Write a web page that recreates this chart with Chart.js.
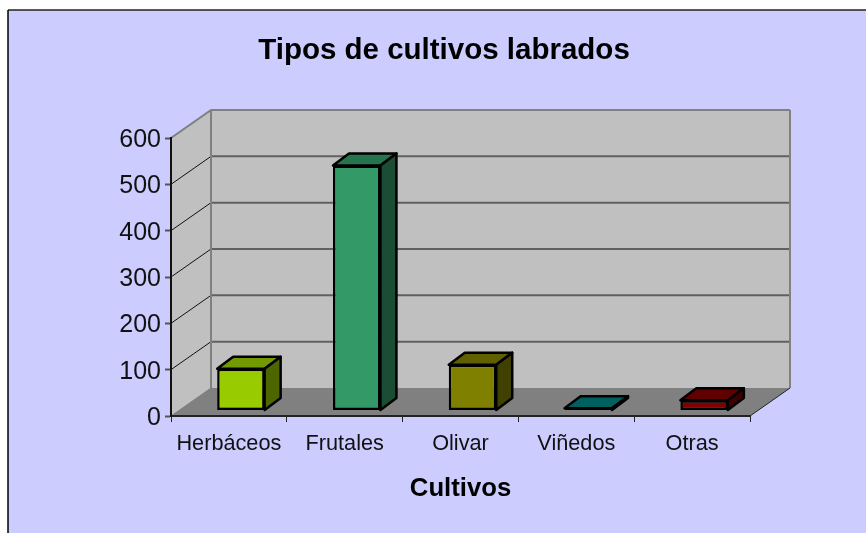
<!DOCTYPE html>
<html>
<head>
<meta charset="utf-8">
<style>
  html, body { margin: 0; padding: 0; background: #fff; }
  canvas { display: block; }
</style>
<script src="https://cdn.jsdelivr.net/npm/chart.js@4/dist/chart.umd.min.js"></script>
</head>
<body>
<canvas id="chart" width="866" height="533"></canvas>
<script>
var chartTitle = 'Tipos de cultivos labrados';
var xTitle = 'Cultivos';
var categories = ['Herbáceos', 'Frutales', 'Olivar', 'Viñedos', 'Otras'];
var values = [90, 529, 99, 5, 22];

var frontColors = ['#99CC00', '#339966', '#808000', '#008080', '#800000'];
var topColors = ['#739900', '#267350', '#606000', '#006060', '#600000'];
var sideColors = ['#4D6600', '#1A4D33', '#404000', '#004040', '#400000'];

var FONT = '"Liberation Sans", Arial, sans-serif';
// depth of the fake 3d box and of the bars in it
var WALL_DX = 40, WALL_DY = 28;
var BAR_SHIFT_X = 12, BAR_SHIFT_Y = 5.5;
var BAR_DX = 16, BAR_DY = 12;

function poly(ctx, pts, fill, stroke, lw) {
  ctx.beginPath();
  ctx.moveTo(pts[0][0], pts[0][1]);
  for (var i = 1; i < pts.length; i++) ctx.lineTo(pts[i][0], pts[i][1]);
  ctx.closePath();
  if (fill) { ctx.fillStyle = fill; ctx.fill(); }
  if (stroke) { ctx.strokeStyle = stroke; ctx.lineWidth = lw; ctx.stroke(); }
}

function line(ctx, x1, y1, x2, y2, color, lw) {
  ctx.beginPath();
  ctx.moveTo(x1, y1);
  ctx.lineTo(x2, y2);
  ctx.strokeStyle = color;
  ctx.lineWidth = lw;
  ctx.stroke();
}

var box3d = {
  id: 'box3d',
  beforeDraw: function(chart) {
    var ctx = chart.ctx;
    var a = chart.chartArea;
    var y = chart.scales.y;

    ctx.save();
    // page area outside the chart frame stays white
    ctx.fillStyle = '#CCCCFF';
    ctx.fillRect(8, 10, chart.width, chart.height);
    line(ctx, 8, 10, chart.width, 10, '#222', 1.5);
    line(ctx, 8, 10, 8, chart.height, '#000', 1.5);

    poly(ctx, [[a.left + WALL_DX, a.top - WALL_DY], [a.right + WALL_DX, a.top - WALL_DY],
      [a.right + WALL_DX, a.bottom - WALL_DY], [a.left + WALL_DX, a.bottom - WALL_DY]], '#C0C0C0');
    poly(ctx, [[a.left, a.top], [a.left + WALL_DX, a.top - WALL_DY],
      [a.left + WALL_DX, a.bottom - WALL_DY], [a.left, a.bottom]], '#C0C0C0');
    poly(ctx, [[a.left, a.bottom], [a.right, a.bottom],
      [a.right + WALL_DX, a.bottom - WALL_DY], [a.left + WALL_DX, a.bottom - WALL_DY]], '#808080');

    y.ticks.forEach(function(t) {
      var py = y.getPixelForValue(t.value);
      if (t.value > 0) line(ctx, a.left, py, a.left + WALL_DX, py - WALL_DY, '#111', 1);
      if (t.value > 0 && t.value < 600) line(ctx, a.left + WALL_DX, py - WALL_DY, a.right + WALL_DX, py - WALL_DY, '#606060', 2);
    });

    // wall edges
    line(ctx, a.left, a.top, a.left + WALL_DX, a.top - WALL_DY, '#808080', 2);
    line(ctx, a.left + WALL_DX, a.top - WALL_DY, a.right + WALL_DX, a.top - WALL_DY, '#808080', 2);
    line(ctx, a.left + WALL_DX, a.top - WALL_DY, a.left + WALL_DX, a.bottom - WALL_DY, '#808080', 2);
    line(ctx, a.right + WALL_DX, a.top - WALL_DY, a.right + WALL_DX, a.bottom - WALL_DY, '#808080', 2);
    line(ctx, a.left, a.bottom, a.left + WALL_DX, a.bottom - WALL_DY, '#808080', 1);
    line(ctx, a.right, a.bottom, a.right + WALL_DX, a.bottom - WALL_DY, '#222', 1);
    ctx.restore();
  },
  beforeDatasetsDraw: function(chart) {
    var ctx = chart.ctx;
    // bars stand in the middle of the floor, so shift the whole layer
    ctx.save();
    ctx.translate(BAR_SHIFT_X, -BAR_SHIFT_Y);
    chart.getDatasetMeta(0).data.forEach(function(bar, i) {
      var l = bar.x - bar.width / 2, r = bar.x + bar.width / 2;
      var t = bar.y, b = bar.base;
      ctx.lineJoin = 'round';
      poly(ctx, [[l, t], [l + BAR_DX, t - BAR_DY], [r + BAR_DX, t - BAR_DY], [r, t]], topColors[i], '#000', 2.5);
      poly(ctx, [[r, t], [r + BAR_DX, t - BAR_DY], [r + BAR_DX, b - BAR_DY], [r, b]], sideColors[i], '#000', 2.5);
    });
  },
  afterDatasetsDraw: function(chart) {
    chart.ctx.restore();
  }
};

new Chart(document.getElementById('chart'), {
  type: 'bar',
  data: {
    labels: categories,
    datasets: [{
      data: values,
      backgroundColor: frontColors,
      borderColor: '#000',
      borderWidth: 2.5,
      borderSkipped: false,
      barPercentage: 0.41,
      categoryPercentage: 1,
      clip: false
    }]
  },
  options: {
    responsive: false,
    animation: false,
    layout: { padding: { left: 22, right: 0, top: 0, bottom: 0 } },
    plugins: {
      legend: { display: false },
      tooltip: { enabled: false },
      title: {
        display: true,
        text: chartTitle,
        color: '#000',
        font: { family: FONT, size: 29.5, weight: 'bold' },
        padding: { top: 33, bottom: 69.6 }
      }
    },
    scales: {
      x: {
        grid: { drawOnChartArea: false, drawTicks: true, tickLength: 6, color: '#222', tickWidth: 1 },
        border: { color: '#222', width: 2 },
        ticks: { color: '#111', font: { family: FONT, size: 21.7 }, padding: 9, maxRotation: 0, autoSkip: false },
        title: { display: true, text: xTitle, color: '#000', font: { family: FONT, size: 25.7, weight: 'bold' }, padding: { top: 16, bottom: 29 } },
        afterFit: function(s) { s.height = 117; }
      },
      y: {
        min: 0,
        max: 600,
        grid: { drawOnChartArea: false, drawTicks: true, tickLength: 6, color: '#555', tickWidth: 2 },
        border: { color: '#111', width: 2 },
        ticks: { stepSize: 100, color: '#111', font: { family: FONT, size: 25 }, padding: 4, labelOffset: 2 },
        afterFit: function(s) { s.width = 149; }
      },
      // empty axis, only holds the room right of the plot so the title still centres on the full width
      rightGap: {
        position: 'right',
        grid: { display: false },
        border: { display: false },
        ticks: { display: false },
        afterFit: function(s) { s.width = 116; }
      }
    }
  },
  plugins: [box3d]
});
</script>
</body>
</html>
